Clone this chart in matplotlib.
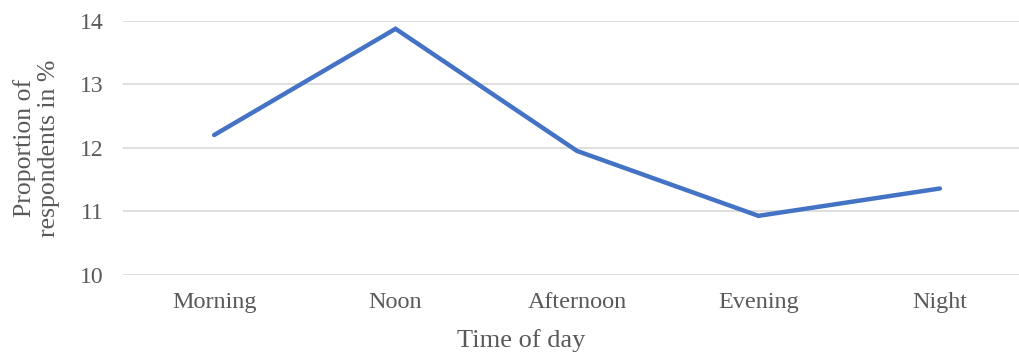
import matplotlib
matplotlib.use("Agg")
import matplotlib.pyplot as plt

# Share of respondents by time of day
periods = ["Morning", "Noon", "Afternoon", "Evening", "Night"]
share_pct = [12.20, 13.87, 11.95, 10.93, 11.36]
y_ticks = [10, 11, 12, 13, 14]

LINE = "#4472C4"
GRID = "#D9D9D9"
TEXT = "#595959"

plt.rcParams["font.family"] = ["Liberation Serif", "DejaVu Serif"]

fig = plt.figure(figsize=(10.19, 3.58), dpi=100)
ax = fig.add_axes([0.1211, 0.2318, 0.8903, 0.7109])

x = list(range(len(periods)))
ax.plot(x, share_pct, color=LINE, lw=3.2, solid_capstyle="round",
        solid_joinstyle="miter", zorder=3)

ax.set_xlim(-0.5, len(periods) - 0.5)
ax.set_ylim(10, 14)
ax.set_yticks(y_ticks)
ax.set_xticks(x)
ax.set_xticklabels(periods)
ax.grid(axis="y", color=GRID, lw=1.2)
ax.set_axisbelow(True)
for s in ax.spines.values():
    s.set_visible(False)
ax.tick_params(axis="both", length=0, colors=TEXT)
ax.tick_params(axis="y", labelsize=17, pad=14)
ax.tick_params(axis="x", labelsize=17.4, pad=12)

fig.text(0.036, 0.587, "Proportion of\nrespondents in %", rotation=90,
         ha="center", va="center", fontsize=18.5, color=TEXT,
         linespacing=1.15)
fig.text(0.511, 0.05, "Time of day", ha="center", va="center",
         fontsize=19, color=TEXT)

fig.savefig("out.png", dpi=100)
